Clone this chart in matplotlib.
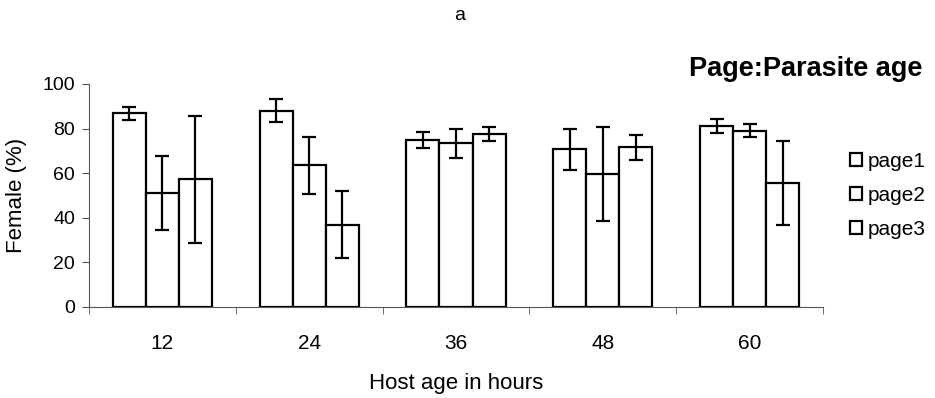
import numpy as np
from matplotlib import pyplot as plt

plt.rcParams['font.family'] = ['Liberation Sans', 'DejaVu Sans']

host_ages = ['12', '24', '36', '48', '60']
series_names = ['page1', 'page2', 'page3']

page1 = [86.8, 88.0, 74.9, 70.7, 81.1]
page2 = [51.0, 63.5, 73.4, 59.6, 79.0]
page3 = [57.2, 36.8, 77.5, 71.6, 55.7]

page1_err = [3.0, 5.2, 3.7, 9.1, 3.3]
page2_err = [16.7, 12.9, 6.6, 21.0, 3.0]
page3_err = [28.5, 15.0, 3.3, 5.7, 18.9]

values = [page1, page2, page3]
errors = [page1_err, page2_err, page3_err]

fig = plt.figure(figsize=(9.35, 3.98), dpi=100)
ax = fig.add_axes([0.0952, 0.2294, 0.785, 0.5596])

x = np.arange(len(host_ages))
width = 0.225
for i, (vals, errs) in enumerate(zip(values, errors)):
    pos = x + (i - 1) * width
    ax.bar(pos, vals, width, facecolor='white', edgecolor='black',
           linewidth=1.6, label=series_names[i], zorder=2)
    ax.errorbar(pos, vals, yerr=errs, fmt='none', ecolor='black',
                elinewidth=1.6, capsize=5, capthick=1.6, zorder=3)

ax.set_xlim(-0.5, len(host_ages) - 0.5)
ax.set_ylim(0, 100)
ax.set_yticks(range(0, 101, 20))
ax.set_xticks(x)
ax.set_xticklabels(host_ages)
ax.set_xticks(np.arange(-0.5, len(host_ages), 1), minor=True)
ax.tick_params(axis='x', which='major', length=0, pad=20, labelsize=15)
ax.tick_params(axis='x', which='minor', length=5, color='#555555')
ax.tick_params(axis='y', length=5, color='#555555', labelsize=14, pad=5)

for side in ['top', 'right']:
    ax.spines[side].set_visible(False)
for side in ['left', 'bottom']:
    ax.spines[side].set_color('#555555')
    ax.spines[side].set_linewidth(0.8)

ax.set_xlabel('Host age in hours', fontsize=16, labelpad=14)
fig.text(17 / 935, 0.508, 'Female (%)', rotation=90, ha='center',
         va='center', fontsize=16)

fig.text(0.492, 0.962, 'a', ha='center', va='center', fontsize=14)
fig.text(0.986, 0.809, 'Page:Parasite age', ha='right', va='baseline',
         fontsize=19.5, fontweight='bold')

fig.legend(loc='center left', bbox_to_anchor=(0.909, 0.51), frameon=False,
           fontsize=15, handlelength=0.58, handleheight=0.58,
           handletextpad=0.25, labelspacing=0.72, borderpad=0,
           borderaxespad=0)

plt.savefig('out.png', dpi=100)
